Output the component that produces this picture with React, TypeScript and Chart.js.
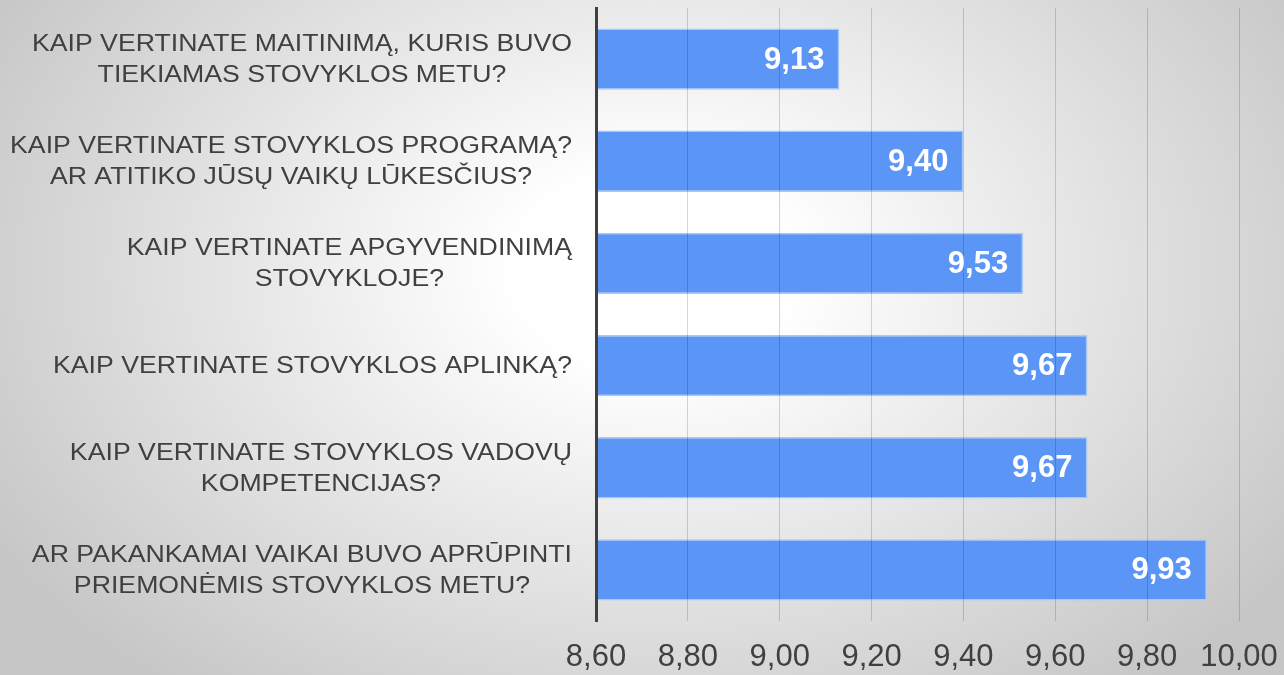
import React, { useEffect, useRef } from "react";
import { Chart, registerables } from "chart.js";

Chart.register(...registerables);

const categories: string[][] = [
  ["KAIP VERTINATE MAITINIMĄ, KURIS BUVO", "TIEKIAMAS STOVYKLOS METU?"],
  ["KAIP VERTINATE STOVYKLOS PROGRAMĄ?", "AR ATITIKO JŪSŲ VAIKŲ LŪKESČIUS?"],
  ["KAIP VERTINATE APGYVENDINIMĄ", "STOVYKLOJE?"],
  ["KAIP VERTINATE STOVYKLOS APLINKĄ?"],
  ["KAIP VERTINATE STOVYKLOS VADOVŲ", "KOMPETENCIJAS?"],
  ["AR PAKANKAMAI VAIKAI BUVO APRŪPINTI", "PRIEMONĖMIS STOVYKLOS METU?"],
];
const values: number[] = [9.13, 9.4, 9.53, 9.67, 9.67, 9.93];
const axisMin = 8.6;
const axisMax = 10.0;
const axisStep = 0.2;

const fmt = (v: number) => v.toFixed(2).replace(".", ",");

const labelPlugin = {
  id: "customLabels",
  afterDraw(chart: any) {
    const ctx = chart.ctx as CanvasRenderingContext2D;
    const yScale = chart.scales.y;
    const area = chart.chartArea;
    // category labels
    ctx.save();
    ctx.font = '23px "Liberation Sans", Arial, sans-serif';
    ctx.fillStyle = "#404040";
    ctx.textBaseline = "middle";
    ctx.textAlign = "center";
    const sx = 1.16;
    const rightEdge = area.left - 24;
    const lineH = 31;
    categories.forEach((lines, i) => {
      const cy = yScale.getPixelForTick(i) + 1;
      const widths = lines.map((l) => ctx.measureText(l).width * sx);
      const blockW = Math.max(...widths);
      const cx = rightEdge - blockW / 2;
      const startY = cy - ((lines.length - 1) * lineH) / 2;
      lines.forEach((l, j) => {
        ctx.save();
        ctx.translate(cx, startY + j * lineH);
        ctx.scale(sx, 1);
        ctx.fillText(l, 0, 0);
        ctx.restore();
      });
    });
    ctx.restore();
    // value labels
    const meta = chart.getDatasetMeta(0);
    ctx.save();
    ctx.font = 'bold 31px "Liberation Sans", Arial, sans-serif';
    ctx.fillStyle = "#ffffff";
    ctx.textAlign = "right";
    ctx.textBaseline = "middle";
    meta.data.forEach((bar: any, i: number) => {
      ctx.fillText(fmt(values[i]), bar.x - 15, bar.y + 1);
    });
    ctx.restore();
  },
};

export default function App() {
  const ref = useRef<HTMLCanvasElement | null>(null);
  useEffect(() => {
    if (!ref.current) return;
    const chart = new Chart(ref.current, {
      type: "bar",
      data: {
        labels: categories,
        datasets: [
          {
            data: values,
            backgroundColor: "#5b95f5",
            borderColor: "#a9c8fa",
            borderWidth: 1.5,
            borderSkipped: false,
            barPercentage: 0.6,
            categoryPercentage: 1,
          },
        ],
      },
      options: {
        indexAxis: "y",
        responsive: false,
        animation: false,
        layout: { padding: { left: 0, right: 45, top: 8, bottom: 0 } },
        plugins: { legend: { display: false }, tooltip: { enabled: false } },
        scales: {
          x: {
            min: axisMin,
            max: axisMax,
            grid: { color: "rgba(0,0,0,0.16)", lineWidth: 1, drawTicks: false, z: 1 },
            border: { display: false },
            ticks: {
              stepSize: axisStep,
              padding: 18,
              color: "#404040",
              font: { family: '"Liberation Sans", Arial, sans-serif', size: 31 },
              callback: (v: any) => fmt(Number(v)),
            },
            afterFit: (scale: any) => {
              scale.height = 54;
              scale.paddingRight = 0;
              scale.paddingLeft = 0;
            },
          },
          y: {
            grid: { display: false },
            border: { display: true, color: "#404040", width: 3, z: 2 },
            ticks: { display: false },
            afterFit: (scale: any) => {
              scale.width = 596;
            },
          },
        },
      },
      plugins: [labelPlugin],
    } as any);
    return () => chart.destroy();
  }, []);
  return (
    <div
      style={{
        position: "fixed",
        left: 0,
        top: 0,
        width: 1284,
        height: 675,
        background:
          "radial-gradient(ellipse 60% 80% at 51% 40%, #ffffff 0%, #ffffff 18%, #c6c6c6 100%)",
      }}
    >
      <canvas ref={ref} width={1284} height={675} style={{ display: "block" }} />
    </div>
  );
}
